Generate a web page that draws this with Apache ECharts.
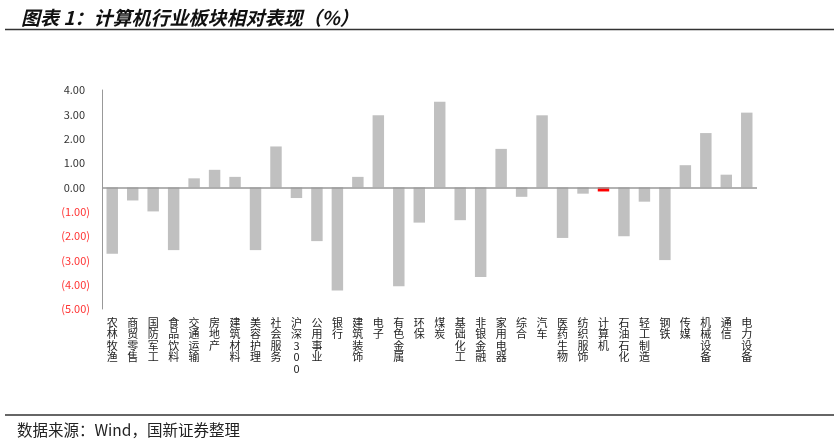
<!DOCTYPE html>
<html>
<head>
<meta charset="utf-8">
<script src="https://cdn.jsdelivr.net/npm/echarts@6/dist/echarts.min.js"></script>
<style>
html,body{margin:0;padding:0;background:#fff;}
#chart{width:840px;height:443px;}
</style>
</head>
<body>
<div id="chart"></div>
<script>
const categories = ['农林牧渔','商贸零售','国防军工','食品饮料','交通运输','房地产','建筑材料','美容护理','社会服务','沪深300','公用事业','银行','建筑装饰','电子','有色金属','环保','煤炭','基础化工','非银金融','家用电器','综合','汽车','医药生物','纺织服饰','计算机','石油石化','轻工制造','钢铁','传媒','机械设备','通信','电力设备'];
const values = [-2.73,-0.54,-0.99,-2.58,0.37,0.72,0.43,-2.58,1.68,-0.44,-2.21,-4.24,0.43,2.96,-4.07,-1.45,3.52,-1.35,-3.69,1.58,-0.39,2.96,-2.08,-0.26,-0.17,-2.01,-0.59,-2.99,0.91,2.23,0.52,3.07];
const highlight = '计算机';
const yMin = -5, yMax = 4, yStep = 1;
const titleText = '图表 1：计算机行业板块相对表现（%）';
const sourceText = '数据来源：Wind，国新证券整理';

const chart = echarts.init(document.getElementById('chart'), null, {renderer:'canvas'});
const cjk = '"Noto Sans CJK SC", sans-serif';

const option = {
  animation:false,
  backgroundColor:'#fff',
  title:{
    text:titleText, left:16, top:3,
    textStyle:{fontFamily:cjk, fontSize:19, fontWeight:'bold', fontStyle:'italic', color:'#111'}
  },
  graphic:[
    {type:'line', shape:{x1:5,y1:29.5,x2:834,y2:29.5}, style:{stroke:'#333', lineWidth:1.5}},
    {type:'line', shape:{x1:5,y1:415,x2:834,y2:415}, style:{stroke:'#333', lineWidth:1.5}},
    {type:'text', left:17, top:422, style:{text:sourceText, font:'15.5px "Noto Sans CJK SC", sans-serif', fill:'#222'}}
  ],
  grid:{left:102, right:83, top:90, bottom:134, containLabel:false},
  xAxis:{
    type:'category', data:categories,
    axisLine:{show:false},
    axisTick:{show:false},
    axisLabel:{
      interval:0, margin:8,
      fontFamily:cjk, fontSize:11, color:'#222', lineHeight:11.5,
      verticalAlign:'top',
      formatter:function(v){ return v.split('').join('\n'); }
    }
  },
  yAxis:{
    type:'value', min:yMin, max:yMax, interval:yStep,
    axisLine:{show:true, lineStyle:{color:'#999', width:1}},
    axisTick:{show:false},
    splitLine:{show:false},
    axisLabel:{
      margin:17, fontFamily:cjk, fontSize:11,
      formatter:function(v){
        return v < 0 ? '{n|(' + Math.abs(v).toFixed(2) + ')}' : '{p|' + v.toFixed(2) + '}';
      },
      rich:{
        n:{color:'#ff3333', fontFamily:cjk, fontSize:11, padding:[0,-5,0,0]},
        p:{color:'#333', fontFamily:cjk, fontSize:11}
      }
    }
  },
  series:[{
    type:'bar',
    data:values.map(function(v,i){
      return {value:v, itemStyle:{color: categories[i]===highlight ? '#ff0000' : '#c0c0c0'}};
    }),
    barWidth:'56%',
    markLine:{
      silent:true, symbol:'none', label:{show:false},
      lineStyle:{color:'#999', type:'solid', width:1.5},
      data:[{yAxis:0}]
    }
  }]
};
chart.setOption(option);
</script>
</body>
</html>
